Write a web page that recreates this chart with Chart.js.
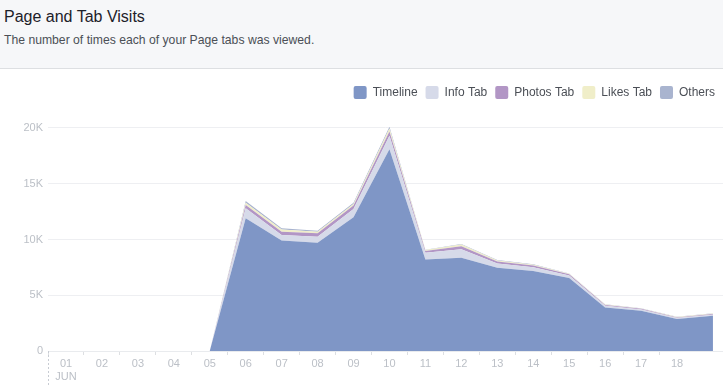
<!DOCTYPE html>
<html>
<head>
<meta charset="utf-8">
<script src="https://cdn.jsdelivr.net/npm/chart.js@4/dist/chart.umd.min.js"></script>
<style>
  html,body{margin:0;padding:0;background:#fff;overflow:hidden;}
  body{width:723px;height:385px;font-family:"Liberation Sans",Arial,Helvetica,sans-serif;}
  #hdr{height:68px;background:#f6f7f9;border-bottom:1px solid #dddfe2;box-sizing:content-box;position:relative;}
  #title{position:absolute;left:4px;top:8px;font-size:16px;color:#1d2129;}
  #sub{position:absolute;left:4px;top:33px;font-size:12.2px;color:#4b4f56;}
  #wrap{position:relative;width:723px;height:316px;}
</style>
</head>
<body>
<div id="hdr"><div id="title">Page and Tab Visits</div><div id="sub">The number of times each of your Page tabs was viewed.</div></div>
<div id="wrap"><canvas id="c"></canvas></div>
<script>
const days = [1,2,3,4,5,6,7,8,9,10,11,12,13,14,15,16,17,18,19];
const monthLabel = 'JUN';
const timeline = [0,0,0,0,0,11900,9900,9700,12000,18100,8200,8370,7470,7170,6550,3900,3600,2860,3150];
const infoTab  = [0,0,0,0,0,900,500,550,740,1200,600,750,380,350,230,150,120,100,110];
const photosTab= [0,0,0,0,0,300,300,300,300,380,170,270,180,150,100,80,60,50,60];
const likesTab = [0,0,0,0,0,200,200,150,150,270,80,150,80,70,40,40,40,30,40];
const others   = [0,0,0,0,0,150,100,80,110,150,30,60,50,30,20,30,20,20,20];
const yTicks = [0,5000,10000,15000,20000];
const xTickDays = [1,2,3,4,5,6,7,8,9,10,11,12,13,14,15,16,17,18];

const series = [
  {label:'Timeline', data:timeline, color:'#7f96c6'},
  {label:'Info Tab', data:infoTab, color:'#d6dae9'},
  {label:'Photos Tab', data:photosTab, color:'#b296c5'},
  {label:'Likes Tab', data:likesTab, color:'#f0eec9'},
  {label:'Others', data:others, color:'#a9b4cf'}
];

const dashPlugin = {
  id:'dash',
  afterDraw(chart){
    const xs = chart.scales.x, ys = chart.scales.y, ctx = chart.ctx;
    const px = Math.round(xs.getPixelForValue(xs.min)) + 0.5;
    ctx.save();
    ctx.strokeStyle = '#c8ccd3';
    ctx.lineWidth = 1;
    ctx.setLineDash([2,2]);
    ctx.beginPath();
    ctx.moveTo(px, ys.getPixelForValue(0));
    ctx.lineTo(px, chart.height);
    ctx.stroke();
    ctx.restore();
  }
};

new Chart(document.getElementById('c'), {
  type:'line',
  data:{
    datasets: series.map((s,i)=>({
      label:s.label,
      data: days.map((d,j)=>({x:d, y:s.data[j]})),
      backgroundColor:s.color,
      borderColor:s.color,
      borderWidth:0,
      pointRadius:0,
      pointHoverRadius:0,
      fill: i===0 ? 'origin' : '-1',
      tension:0
    }))
  },
  options:{
    responsive:true,
    maintainAspectRatio:false,
    animation:false,
    layout:{padding:{left:0,right:0,top:9,bottom:0}},
    plugins:{
      tooltip:{enabled:false},
      legend:{
        position:'top',
        align:'end',
        labels:{
          boxWidth:13, boxHeight:13, useBorderRadius:true, borderRadius:2,
          padding:8,
          color:'#4b4f56',
          font:{family:'"Liberation Sans", Arial, sans-serif', size:12},
          generateLabels(chart){
            return chart.data.datasets.map((ds,i)=>({
              text:ds.label, fillStyle:ds.backgroundColor, strokeStyle:ds.backgroundColor,
              lineWidth:0, hidden:false, datasetIndex:i, borderRadius:2, fontColor:'#4b4f56'
            }));
          }
        }
      }
    },
    scales:{
      x:{
        type:'linear',
        min:0.5,
        max:19.28,
        afterBuildTicks(scale){
          scale.ticks = xTickDays.map(d=>({value:d-0.5}));
        },
        afterFit(scale){ scale.height = 34; },
        ticks:{
          autoSkip:false,
          maxRotation:0,
          labelOffset:18,
          padding:2,
          color:'#bcc0c7',
          font:{family:'"Liberation Sans", Arial, sans-serif', size:11},
          callback(v){
            const d = Math.round(v+0.5);
            const s = String(d).padStart(2,'0');
            return d===1 ? [s, monthLabel] : s;
          }
        },
        grid:{display:true, drawOnChartArea:false, tickLength:4, color:'#dddfe2'},
        border:{display:true, color:'#e9ebee'}
      },
      y:{
        stacked:true,
        min:0,
        max:21700,
        afterBuildTicks(scale){
          scale.ticks = yTicks.map(v=>({value:v}));
        },
        afterFit(scale){ scale.width = 48; },
        ticks:{
          padding:5,
          color:'#bcc0c7',
          font:{family:'"Liberation Sans", Arial, sans-serif', size:11},
          callback(v){ return v===0 ? '0' : (v/1000)+'K'; }
        },
        grid:{color:'#eeeff2', drawTicks:false},
        border:{display:false}
      }
    }
  },
  plugins:[dashPlugin]
});
</script>
</body>
</html>
